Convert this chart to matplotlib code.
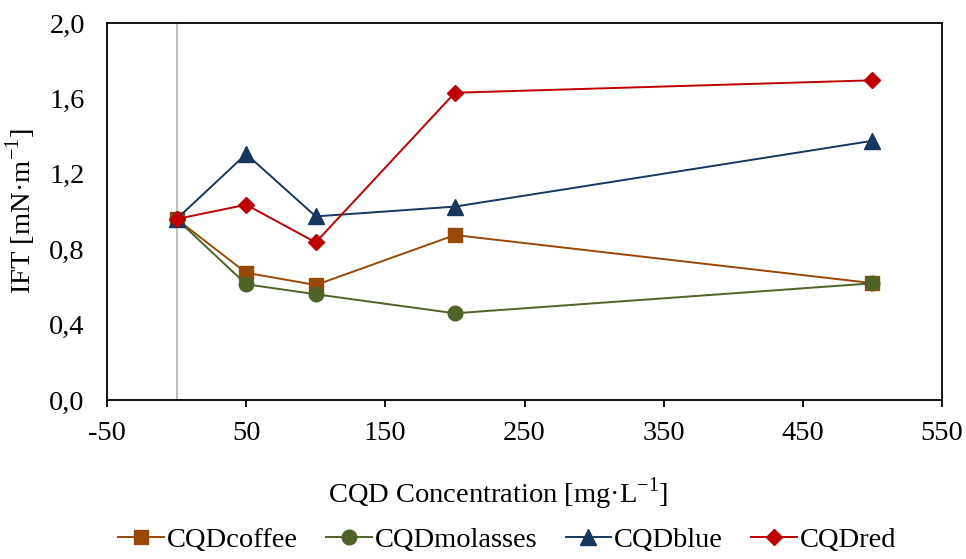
import numpy as np
import matplotlib as mpl
import matplotlib.pyplot as plt
from matplotlib.ticker import FuncFormatter

mpl.rcParams['font.family'] = 'Liberation Serif'
mpl.rcParams['mathtext.fontset'] = 'custom'
mpl.rcParams['mathtext.rm'] = 'Liberation Serif'
mpl.rcParams['axes.unicode_minus'] = False
mpl.rcParams['font.size'] = 20.5

conc = [0, 50, 100, 200, 500]
coffee = [0.96, 0.675, 0.61, 0.875, 0.62]
molasses = [0.96, 0.614, 0.561, 0.46, 0.619]
blue = [0.96, 1.305, 0.974, 1.026, 1.375]
red = [0.96, 1.036, 0.836, 1.63, 1.696]

series = [
    ('CQDcoffee', coffee, '#984807', 's', 10),
    ('CQDmolasses', molasses, '#4F6228', 'o', 10.5),
    ('CQDblue', blue, '#17375E', '^', 11),
    ('CQDred', red, '#C00000', 'D', 8),
]

fig = plt.figure(figsize=(9.66, 5.59), dpi=100)
ax = fig.add_axes([107 / 966, 1 - 400 / 559, 835 / 966, 377 / 559])

ax.axvline(0, color='#BFBFBF', lw=1.5, zorder=1)
for name, vals, col, mk, ms in series:
    ax.plot(conc, vals, color=col, marker=mk, ms=ms, lw=1.4, label=name, zorder=3)

ax.set_xlim(-50, 550)
ax.set_ylim(0, 2.0)
ax.set_xticks(np.arange(-50, 551, 100))
ax.set_yticks(np.arange(0, 2.01, 0.4))
ax.yaxis.set_major_formatter(FuncFormatter(lambda v, p: f'{v:.1f}'.replace('.', ',')))
ax.tick_params(axis='x', direction='out', length=5, width=1.3, pad=10)
ax.tick_params(axis='y', length=0, pad=16)
for s in ax.spines.values():
    s.set_linewidth(1.3)
    s.set_color('black')

ax.set_xlabel(r'CQD Concentration [mg·L$^{\mathregular{-1}}$]')
ax.xaxis.set_label_coords(0.468, -0.2)
ax.set_ylabel(r'IFT [mN·m$^{\mathregular{-1}}$]')
ax.yaxis.set_label_coords(-0.083, 0.5)

fig.legend(loc='lower center', bbox_to_anchor=(0.525, -0.035), ncol=4, frameon=False,
           handlelength=1.6, handletextpad=0.1, columnspacing=1.0, markerscale=1.0)

fig.savefig('out.png', dpi=100)
